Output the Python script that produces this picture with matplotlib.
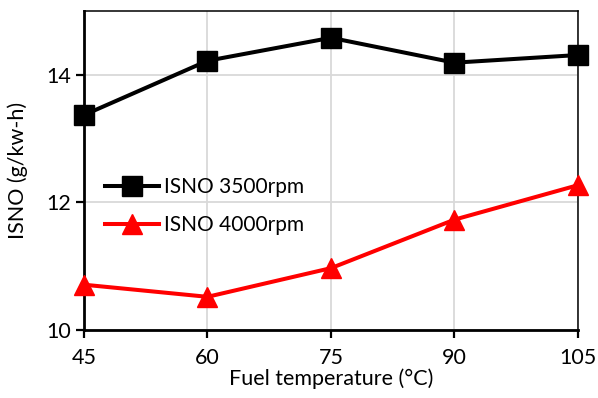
import matplotlib
matplotlib.use("Agg")
import matplotlib.pyplot as plt

# values
fuel_temp = [45, 60, 75, 90, 105]
isno_3500 = [13.37, 14.22, 14.58, 14.19, 14.31]
isno_4000 = [10.71, 10.52, 10.97, 11.73, 12.27]
y_ticks = [10, 12, 14]

plt.rcParams['font.family'] = ['Lato', 'DejaVu Sans']

fig = plt.figure(figsize=(5.98, 3.98), dpi=100)
ax = fig.add_axes([84 / 598, 1 - 330 / 398, (578 - 84) / 598, (330 - 11) / 398])

ax.plot(fuel_temp, isno_3500, color='black', lw=2.9, marker='s', ms=14.5,
        label='ISNO 3500rpm', clip_on=False, zorder=4)
ax.plot(fuel_temp, isno_4000, color='#ff0000', lw=2.9, marker='^', ms=15,
        label='ISNO 4000rpm', clip_on=False, zorder=4)

ax.set_xlim(45, 105)
ax.set_ylim(10, 15)
ax.set_xticks(fuel_temp)
ax.set_yticks(y_ticks)
ax.grid(True, color='#d9d9d9', lw=1.3, zorder=0)
ax.set_axisbelow(True)

for side in ['left', 'bottom']:
    ax.spines[side].set_linewidth(2.0)
for side in ['top', 'right']:
    ax.spines[side].set_linewidth(1.1)
ax.tick_params(axis='both', direction='out', length=6, width=1.6, labelsize=15.5, colors='black')
ax.tick_params(axis='x', pad=7)

ax.set_xlabel('Fuel temperature (°C)', fontsize=15.5, labelpad=0)
ax.set_ylabel('ISNO (g/kw-h)', fontsize=15.5, labelpad=13)

ax.legend(loc='upper left', bbox_to_anchor=(0.025, 0.505), frameon=False,
          fontsize=15, handlelength=2.6, labelspacing=0.85, handletextpad=0.25,
          borderaxespad=0.0)

fig.savefig('out.png', dpi=100)
